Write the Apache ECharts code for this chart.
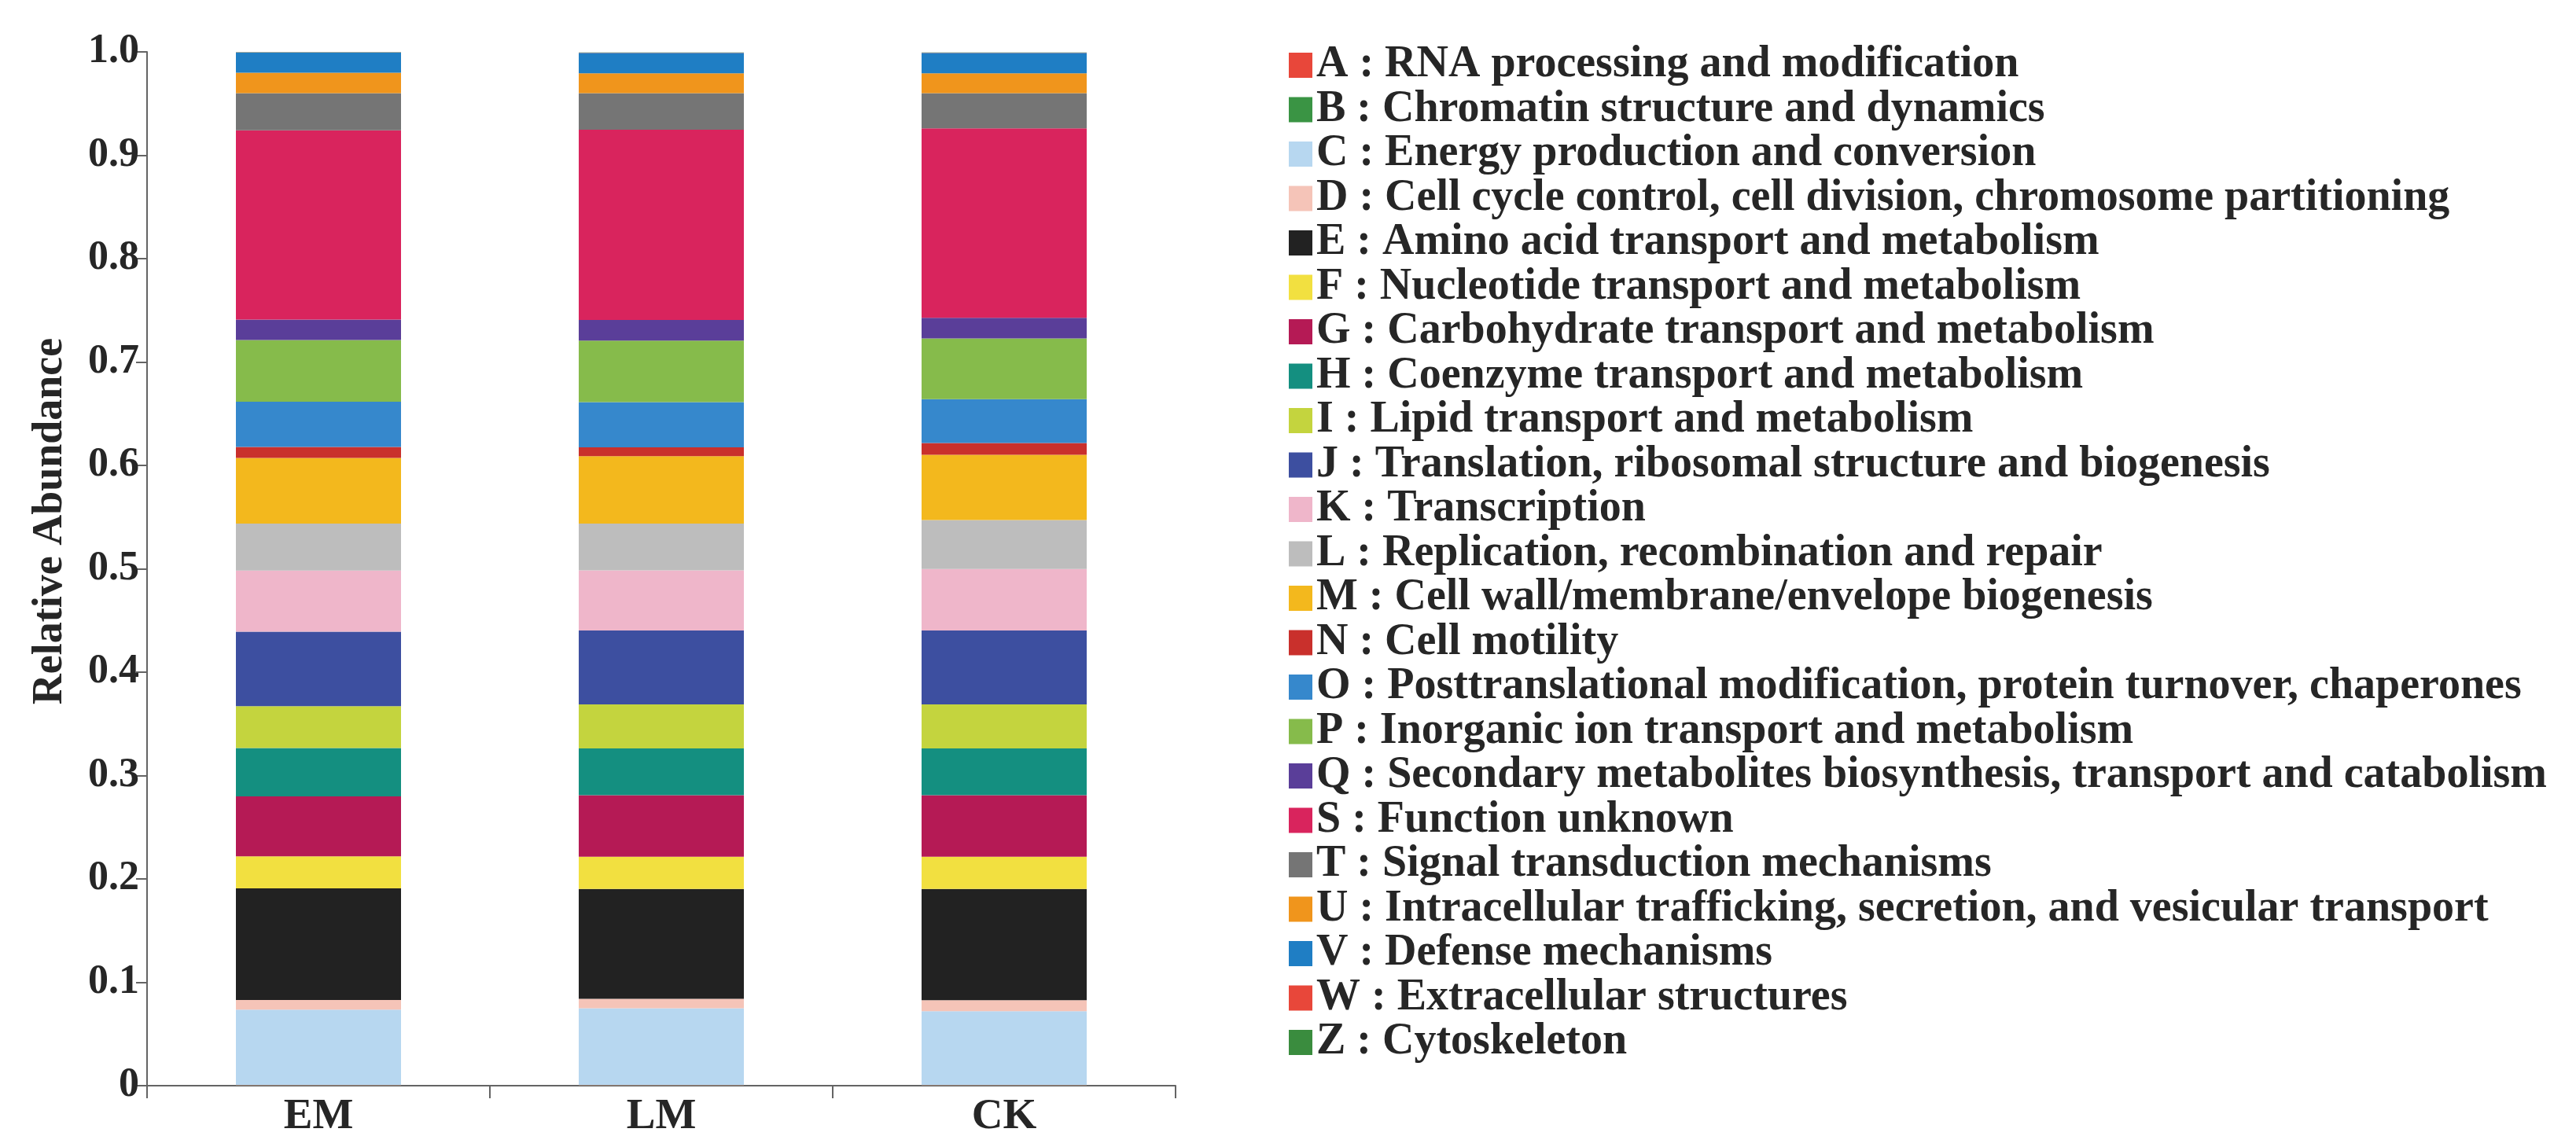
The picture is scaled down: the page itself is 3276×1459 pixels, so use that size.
<!DOCTYPE html>
<html>
<head>
<meta charset="utf-8">
<script src="https://cdn.jsdelivr.net/npm/echarts@6/dist/echarts.min.js"></script>
<style>
  html, body { margin: 0; padding: 0; background: #ffffff; }
  #chart { width: 3276px; height: 1459px; }
</style>
</head>
<body>
<div id="chart"></div>
<script>
// ---- Data (relative abundance) ----
const samples = ['EM', 'LM', 'CK'];
const yTicks = ['0', '0.1', '0.2', '0.3', '0.4', '0.5', '0.6', '0.7', '0.8', '0.9', '1.0'];

const cogNames = [
  'A : RNA processing and modification',
  'B : Chromatin structure and dynamics',
  'C : Energy production and conversion',
  'D : Cell cycle control, cell division, chromosome partitioning',
  'E : Amino acid transport and metabolism',
  'F : Nucleotide transport and metabolism',
  'G : Carbohydrate transport and metabolism',
  'H : Coenzyme transport and metabolism',
  'I : Lipid transport and metabolism',
  'J : Translation, ribosomal structure and biogenesis',
  'K : Transcription',
  'L : Replication, recombination and repair',
  'M : Cell wall/membrane/envelope biogenesis',
  'N : Cell motility',
  'O : Posttranslational modification, protein turnover, chaperones',
  'P : Inorganic ion transport and metabolism',
  'Q : Secondary metabolites biosynthesis, transport and catabolism',
  'S : Function unknown',
  'T : Signal transduction mechanisms',
  'U : Intracellular trafficking, secretion, and vesicular transport',
  'V : Defense mechanisms',
  'W : Extracellular structures',
  'Z : Cytoskeleton'
];

const valA = [0.0003, 0.0003, 0.0003];
const valB = [0.0002, 0.0002, 0.0002];
const valC = [0.0730, 0.0744, 0.0715];
const valD = [0.0094, 0.0092, 0.0107];
const valE = [0.1080, 0.1062, 0.1076];
const valF = [0.0310, 0.0312, 0.0312];
const valG = [0.0580, 0.0595, 0.0595];
const valH = [0.0467, 0.0453, 0.0453];
const valI = [0.0406, 0.0425, 0.0425];
const valJ = [0.0720, 0.0715, 0.0715];
const valK = [0.0590, 0.0581, 0.0595];
const valL = [0.0456, 0.0453, 0.0474];
const valM = [0.0634, 0.0652, 0.0631];
const valN = [0.0106, 0.0085, 0.0113];
const valO = [0.0438, 0.0439, 0.0425];
const valP = [0.0597, 0.0595, 0.0588];
const valQ = [0.0198, 0.0198, 0.0198];
const valS = [0.1830, 0.1841, 0.1834];
const valT = [0.0360, 0.0354, 0.0340];
const valU = [0.0198, 0.0192, 0.0192];
const valV = [0.0195, 0.0198, 0.0198];
const valW = [0.0002, 0.0002, 0.0002];
const valZ = [0.0002, 0.0002, 0.0002];

const seriesValues = [valA, valB, valC, valD, valE, valF, valG, valH, valI, valJ, valK, valL,
  valM, valN, valO, valP, valQ, valS, valT, valU, valV, valW, valZ];

const cogColors = [
  '#e8473a', '#3a9444', '#b7d7f0', '#f5c4b8', '#222222', '#f2e040', '#b51a55', '#148f80',
  '#c4d43e', '#3d4fa0', '#efb6ca', '#bdbdbd', '#f3b81d', '#c9302c', '#3688cc', '#86bb4b',
  '#5a3e99', '#d9245d', '#757575', '#f0951c', '#1f7ec4', '#e8473a', '#3a8c3e'
];

// ---- Chart ----
const FONT = '"Liberation Serif", "Times New Roman", serif';
const TXT = '#262626';
const AX = '#646464';

const chart = echarts.init(document.getElementById('chart'), null, { renderer: 'canvas' });

const series = cogNames.map((name, i) => ({
  name: name,
  type: 'bar',
  stack: 'total',
  barWidth: 210,
  itemStyle: { color: cogColors[i] },
  emphasis: { disabled: true },
  data: seriesValues[i]
}));

chart.setOption({
  backgroundColor: '#ffffff',
  animation: false,
  grid: { left: 187, right: 1781, top: 66, bottom: 78, containLabel: false },
  legend: {
    orient: 'vertical',
    left: 1639,
    top: 55,
    padding: 0,
    itemWidth: 30,
    itemHeight: 32,
    itemGap: 0.5,
    icon: 'rect',
    selectedMode: false,
    data: cogNames,
    textStyle: {
      fontFamily: FONT,
      fontWeight: 'bold',
      fontSize: 56,
      color: TXT
    }
  },
  xAxis: {
    type: 'category',
    data: samples,
    axisLine: { show: true, lineStyle: { color: AX, width: 2 } },
    axisTick: { show: true, length: 16, lineStyle: { color: AX, width: 2 } },
    axisLabel: {
      margin: 12,
      fontFamily: FONT,
      fontWeight: 'bold',
      fontSize: 55,
      color: TXT
    },
    splitLine: { show: false }
  },
  yAxis: {
    type: 'value',
    min: 0,
    max: 1,
    interval: 0.1,
    axisLine: { show: true, lineStyle: { color: AX, width: 2 } },
    axisTick: { show: true, length: 14, lineStyle: { color: AX, width: 2 } },
    axisLabel: {
      margin: 10,
      fontFamily: FONT,
      fontWeight: 'bold',
      fontSize: 52,
      color: TXT,
      formatter: function (v) { return yTicks[Math.round(v * 10)]; }
    },
    splitLine: { show: false }
  },
  graphic: [{
    type: 'text',
    x: 64,
    y: 663,
    rotation: Math.PI / 2,
    style: {
      text: 'Relative Abundance',
      font: 'bold 54px ' + FONT,
      fill: TXT,
      align: 'center',
      verticalAlign: 'middle',
      textAlign: 'center',
      textVerticalAlign: 'middle'
    }
  }],
  series: series
});
</script>
</body>
</html>
